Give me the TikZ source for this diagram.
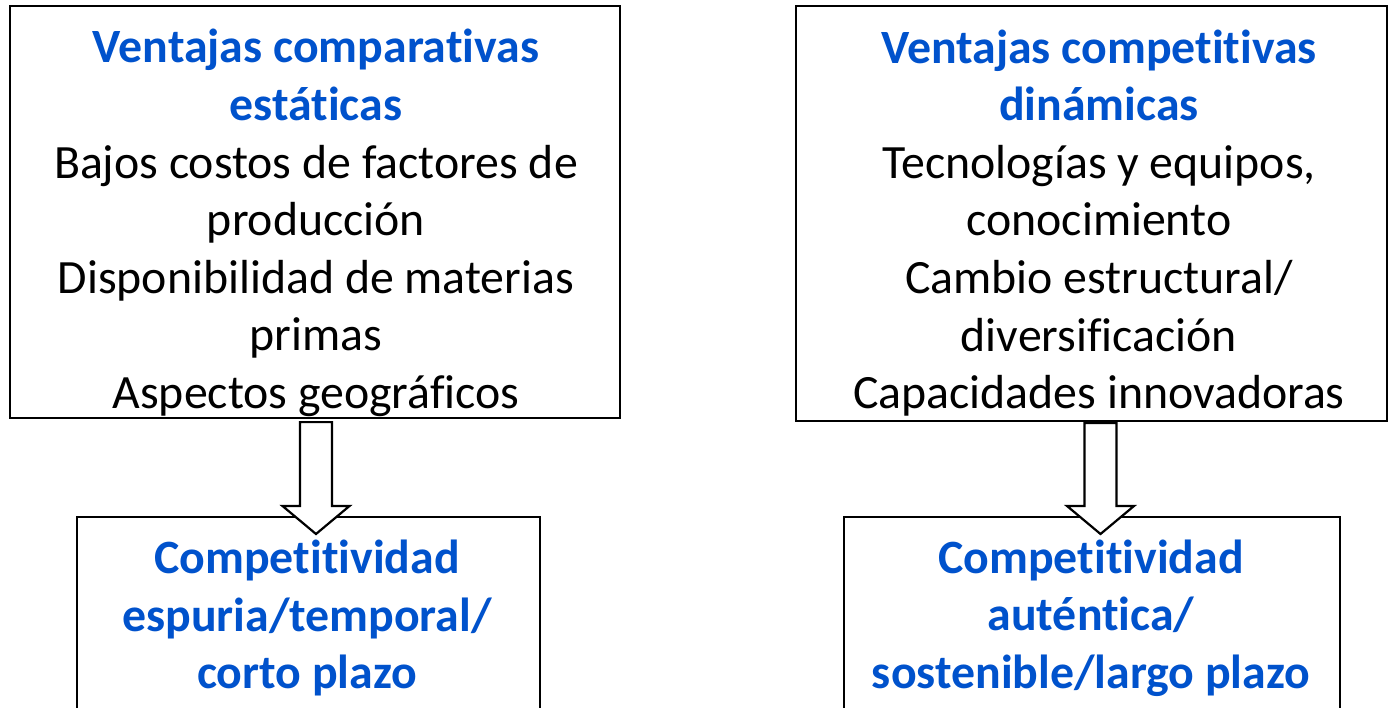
\documentclass[tikz,border=0pt]{standalone}
\usepackage{fontspec}
\setmainfont{Carlito}[Ligatures={NoCommon}]
\usetikzlibrary{calc}
\definecolor{tblue}{RGB}{0,82,204}
\newcommand{\ttl}[1]{\textbf{\color{tblue}#1}}
\begin{document}
\begin{tikzpicture}[x=1pt,y=-1pt,
  box/.style={draw, line width=2.2pt, fill=white, inner sep=0pt},
  txt/.style={align=center, font=\fontsize{47.8}{57.6}\selectfont, inner sep=0pt},
  blockarr/.style={draw, line width=2.2pt, fill=white, line join=miter}]
\useasboundingbox (0,0) rectangle (1389,708);
\clip (0,0) rectangle (1389,708);
\fill[white] (0,0) rectangle (1389,708);
% boxes
\node[box, minimum width=610pt, minimum height=412pt] (TL) at (315,212) {};
\node[box, minimum width=591pt, minimum height=415pt] (TR) at (1091.5,213.5) {};
\node[box, minimum width=463pt, minimum height=213pt] (BL) at (308.5,623.5) {};
\node[box, minimum width=496pt, minimum height=213pt] (BR) at (1092,623.5) {};
% texts
\node[txt] (TLt) at (316,223) {\ttl{Ventajas comparativas}\\ \ttl{estáticas}\\ Bajos costos de factores de\\ producción\\ Disponibilidad de materias\\ primas\\ Aspectos geográficos};
\node[txt] (TRt) at (1099,223) {\ttl{Ventajas competitivas}\\ \ttl{dinámicas}\\ Tecnologías y equipos,\\ conocimiento\\ Cambio estructural/\\ diversificación\\ Capacidades innovadoras};
\node[txt] (BLt) at (307,618) {\ttl{Competitividad}\\ \ttl{espuria/temporal/}\\ \ttl{corto plazo}};
\node[txt] (BRt) at (1091,618) {\ttl{Competitividad}\\ \ttl{auténtica/}\\ \ttl{sostenible/largo plazo}};
% arrows
\coordinate (tipL) at (316,534);
\coordinate (tipR) at (1100.5,534);
\coordinate (sL) at ($(TL.south -| tipL)+(0,3)$);
\coordinate (sR) at ($(TR.south -| tipR)+(0,1)$);
\foreach \s/\t in {sL/tipL, sR/tipR}{
  \draw[blockarr] ($(\s)+(-16,0)$) -- ($(\t)+(-16,-28)$) -- ($(\t)+(-33.5,-28)$) -- (\t)
     -- ($(\t)+(33.5,-28)$) -- ($(\t)+(16,-28)$) -- ($(\s)+(16,0)$) -- cycle;
}
\end{tikzpicture}
\end{document}
